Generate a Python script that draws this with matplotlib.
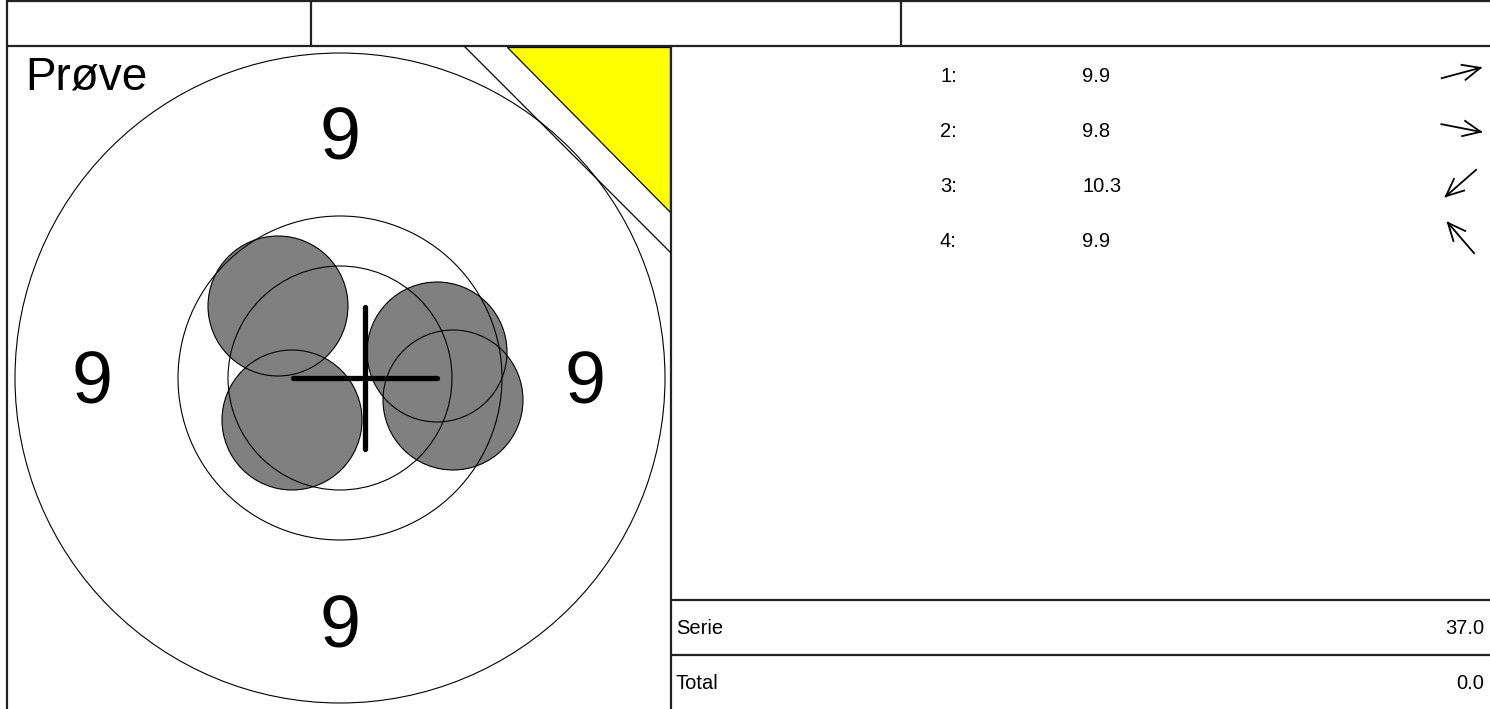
import numpy as np
import matplotlib.pyplot as plt
from matplotlib.patches import Circle, Polygon

plt.rcParams['font.family'] = ['Liberation Sans', 'DejaVu Sans']

# shot data (offset from target centre in px, score)
shot_no = ['1:', '2:', '3:', '4:']
shot_score = ['9.9', '9.8', '10.3', '9.9']
shot_dx = [97, 113, -48, -62]
shot_dy = [-26, 22, 42, -72]
shot_r = 70

ring_radii = [325, 162, 112]
ring_label = '9'
title = 'Prøve'
serie_total = 37.0
grand_total = 0.0
group_dx, group_dy = 25, 0

fig = plt.figure(figsize=(14.9, 7.09), dpi=100)
ax = fig.add_axes([0, 0, 1, 1])
ax.set_xlim(0, 1490)
ax.set_ylim(709, 0)
ax.axis('off')

cx, cy = 340, 378
border = dict(color='#222222', lw=1.6, solid_capstyle='butt')

# header / frame
ax.plot([7, 1490], [1, 1], **border)
ax.plot([7, 1490], [46, 46], **border)
ax.plot([7, 7], [0, 709], **border)
ax.plot([311, 311], [1, 46], **border)
ax.plot([901, 901], [1, 46], **border)
ax.plot([671, 671], [46, 709], **border)
ax.plot([671, 1490], [600, 600], **border)
ax.plot([671, 1490], [655, 655], **border)

# corner marks
ax.add_patch(Polygon([[507, 47], [670, 47], [670, 212]], closed=True,
                     fc='yellow', ec='black', lw=0.9))
ax.plot([465, 670], [47, 252], color='black', lw=0.9)

# shots: fill first, outlines after
for dx, dy in zip(shot_dx, shot_dy):
    ax.add_patch(Circle((cx + dx, cy + dy), shot_r, fc='#808080', ec='none'))
for dx, dy in zip(shot_dx, shot_dy):
    ax.add_patch(Circle((cx + dx, cy + dy), shot_r, fill=False, ec='black', lw=0.8))

for r in ring_radii:
    ax.add_patch(Circle((cx, cy), r, fill=False, ec='black', lw=0.8))

# group centre cross
gx, gy = cx + group_dx, cy + group_dy
ax.plot([gx - 72, gx + 72], [gy, gy], color='black', lw=3.8, solid_capstyle='round')
ax.plot([gx, gx], [gy - 71, gy + 71], color='black', lw=3.8, solid_capstyle='round')

# ring numbers
for lx, lb in [(cx, cy - 218), (cx - 248, cy + 26), (cx + 245, cy + 26), (cx, cy + 270)]:
    ax.text(lx, lb, ring_label, fontsize=53, ha='center', va='baseline')

ax.text(25, 90, title, fontsize=33, ha='left', va='baseline')

# shot list with direction arrows
for i in range(len(shot_no)):
    base = 82 + 55 * i
    ax.text(940, base, shot_no[i], fontsize=14.5, ha='left', va='baseline')
    ax.text(1082, base, shot_score[i], fontsize=14.5, ha='left', va='baseline')
    u = np.array([shot_dx[i], shot_dy[i]], dtype=float)
    u /= np.hypot(*u)
    mid = np.array([1461, base - 9])
    tail, tip = mid - 20 * u, mid + 20 * u
    ax.plot([tail[0], tip[0]], [tail[1], tip[1]], color='black', lw=1.3)
    for s in (1, -1):
        a = np.deg2rad(24) * s
        rot = np.array([[np.cos(a), -np.sin(a)], [np.sin(a), np.cos(a)]])
        h = tip - 19 * (rot @ u)
        ax.plot([tip[0], h[0]], [tip[1], h[1]], color='black', lw=1.3)

ax.text(676, 634, 'Serie', fontsize=14.5, ha='left', va='baseline')
ax.text(1484, 634, f'{serie_total:.1f}', fontsize=14.5, ha='right', va='baseline')
ax.text(676, 689, 'Total', fontsize=14.5, ha='left', va='baseline')
ax.text(1484, 689, f'{grand_total:.1f}', fontsize=14.5, ha='right', va='baseline')

fig.savefig('out.png', dpi=100)
